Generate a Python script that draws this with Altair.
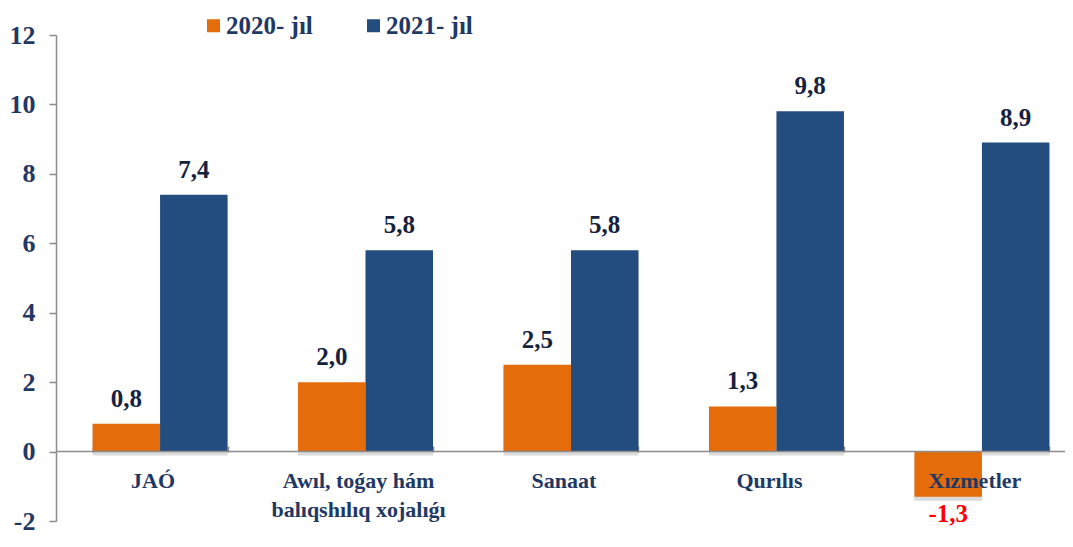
import altair as alt
import pandas as pd

categories = ["JAÓ", "Awıl, toǵay hám balıqshılıq xojalıǵı", "Sanaat", "Qurılıs", "Xızmetler"]
category_lines = ["JAÓ", "Awıl, toǵay hám\nbalıqshılıq xojalıǵı", "Sanaat", "Qurılıs", "Xızmetler"]
series = ["2020- jıl", "2021- jıl"]
values_2020 = [0.8, 2.0, 2.5, 1.3, -1.3]
values_2021 = [7.4, 5.8, 5.8, 9.8, 8.9]
y_ticks = [-2, 0, 2, 4, 6, 8, 10, 12]
zero_line = [0]

rows = []
for c, a, b in zip(categories, values_2020, values_2021):
    rows.append({"cat": c, "series": series[0], "value": a})
    rows.append({"cat": c, "series": series[1], "value": b})
df = pd.DataFrame(rows)
cat_df = pd.DataFrame({"cat": categories, "label": category_lines})
zero_df = pd.DataFrame({"v": zero_line})

FONT = "Liberation Serif"
NAVY = "#1F3864"
VALNAVY = "#16223D"
ORANGE = "#E46C0A"
BLUE = "#234C7F"
GRAY = "#8C8C8C"

x_scale = alt.Scale(domain=categories, range=[0, 1030], paddingInner=0.343, paddingOuter=0.178)
y_scale = alt.Scale(domain=[-2, 12], nice=False)

x_enc = alt.X("cat:N", sort=categories, scale=x_scale,
              axis=alt.Axis(title=None, labels=False, domain=False, ticks=True,
                            tickBand="extent", tickSize=6, tickColor=GRAY, tickWidth=1.5,
                            offset=-75, orient="bottom"))
y_enc = alt.Y("value:Q", scale=y_scale,
              axis=alt.Axis(title=None, values=y_ticks, grid=False, domainColor=GRAY,
                            domainWidth=1.5, tickColor=GRAY, tickWidth=1.5, tickSize=7,
                            labelFont=FONT, labelFontSize=26, labelFontWeight="bold",
                            labelColor=NAVY, labelPadding=14,
                            labelExpr="replace(datum.label, '\u2212', '-')"))
xoff = alt.XOffset("series:N", sort=series, scale=alt.Scale(domain=series, paddingInner=0, paddingOuter=0))

color = alt.Color("series:N", sort=series,
                  scale=alt.Scale(domain=series, range=[ORANGE, BLUE]),
                  legend=alt.Legend(title=None, orient="none", legendX=145, legendY=-22,
                                    direction="horizontal", symbolType="square",
                                    symbolSize=169, symbolStrokeWidth=0,
                                    labelFont=FONT, labelFontSize=25, labelFontWeight="bold",
                                    labelColor=NAVY, labelOffset=0, columnPadding=48,
                                    padding=0, labelLimit=400))

base = alt.Chart(df).transform_calculate(
    lbl="replace(replace(format(datum.value, '.1f'), '.', ','), '\u2212', '-')"
)

shadow = base.mark_bar(color="#000000", opacity=0.14, yOffset=4).encode(
    x=x_enc, xOffset=xoff, y=y_enc
)

bars = base.mark_bar().encode(x=x_enc, xOffset=xoff, y=y_enc, color=color)

zero = alt.Chart(zero_df).mark_rule(color=GRAY, strokeWidth=1.5).encode(
    y=alt.Y("v:Q", scale=y_scale)
)

pos_labels = base.transform_filter("datum.value >= 0").mark_text(
    baseline="alphabetic", dy=-17, font=FONT, fontSize=25, fontWeight="bold", color=VALNAVY
).encode(x=alt.X("cat:N", sort=categories, scale=x_scale), xOffset=xoff,
         y=alt.Y("value:Q", scale=y_scale), text="lbl:N")

neg_labels = base.transform_filter("datum.value < 0").mark_text(
    baseline="top", dy=5, font=FONT, fontSize=25, fontWeight="bold", color="#FF0000"
).encode(x=alt.X("cat:N", sort=categories, scale=x_scale), xOffset=xoff,
         y=alt.Y("value:Q", scale=y_scale), text="lbl:N")

cat_labels = alt.Chart(cat_df).mark_text(
    baseline="top", dy=19, dx=-7, font=FONT, fontSize=22, fontWeight="bold",
    color=NAVY, lineBreak="\n", lineHeight=29
).encode(x=alt.X("cat:N", sort=categories, scale=x_scale), y=alt.datum(0), text="label:N")

chart = alt.layer(shadow, bars, zero, pos_labels, neg_labels, cat_labels).properties(
    width=1009, height=486,
    padding={"left": 48, "top": 27, "right": 0, "bottom": 13},
    autosize=alt.AutoSizeParams(type="none"),
).configure_view(stroke=None)

chart.save("out.html", embed_options={"renderer": "svg", "actions": False})
